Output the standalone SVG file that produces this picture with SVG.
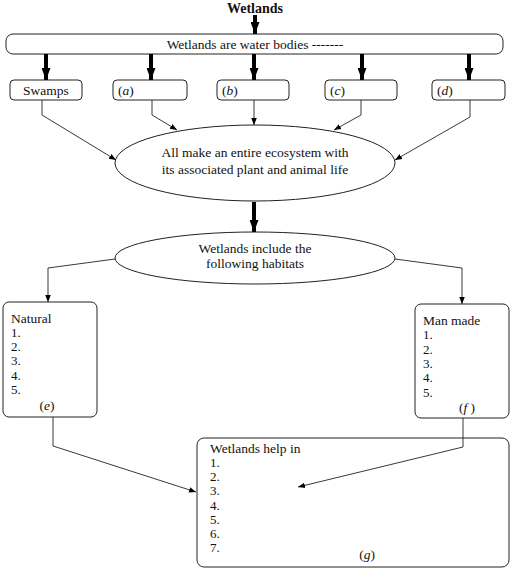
<svg xmlns="http://www.w3.org/2000/svg" width="520" height="574" viewBox="0 0 520 574">
<style>
.box{fill:#fff;stroke:#222;stroke-width:1}
.t{font-family:"Liberation Serif","Times New Roman",serif;font-size:13.5px;fill:#111}
.s{font-size:13px}
.c{text-anchor:middle}
.b{font-weight:bold;font-size:14px}
.i{font-style:italic}
.ln{fill:none;stroke:#222;stroke-width:0.9}
.thick{fill:none;stroke:#000;stroke-width:4}
</style>
<defs>
<marker id="ah" viewBox="0 0 10 10" refX="10" refY="5" markerWidth="7" markerHeight="7" markerUnits="userSpaceOnUse" orient="auto">
<path d="M0,1 L10,5 L0,9 Z" fill="#000"/>
</marker>
<marker id="th" viewBox="0 0 12 9" refX="12" refY="4.5" markerWidth="12" markerHeight="9" markerUnits="userSpaceOnUse" orient="auto">
<path d="M0,0 L12,4.5 L0,9 Z" fill="#000"/>
</marker>
</defs>
<g id="title"><text class="t c b" x="255" y="13">Wetlands</text></g>
<g id="banner"><rect class="box" x="6" y="34" width="497" height="20" rx="7"/><text class="t c" x="255" y="49">Wetlands are water bodies -------</text></g>
<g id="swamps"><rect class="box" x="10" y="80" width="72" height="20" rx="4"/><text class="t c" x="46" y="95">Swamps</text></g>
<g id="a"><rect class="box" x="113" y="80" width="74" height="20" rx="4"/><text class="t" x="118" y="95">(<tspan class="i">a</tspan>)</text></g>
<g id="b"><rect class="box" x="217" y="80" width="72" height="20" rx="4"/><text class="t" x="222" y="95">(<tspan class="i">b</tspan>)</text></g>
<g id="c"><rect class="box" x="325" y="80" width="72" height="20" rx="4"/><text class="t" x="330" y="95">(<tspan class="i">c</tspan>)</text></g>
<g id="d"><rect class="box" x="432" y="80" width="73" height="20" rx="4"/><text class="t" x="437" y="95">(<tspan class="i">d</tspan>)</text></g>
<g id="ecosystem"><ellipse class="box" cx="255" cy="163" rx="140" ry="38"/><text class="t c" x="255" y="157">All make an entire ecosystem with</text><text class="t c" x="255" y="174">its associated plant and animal life</text></g>
<g id="habitats"><ellipse class="box" cx="255" cy="258" rx="140" ry="26"/><text class="t c" x="255" y="253">Wetlands include the</text><text class="t c" x="255" y="268">following habitats</text></g>
<g id="natural"><rect class="box" x="3" y="302" width="94" height="115" rx="6"/>
<text class="t" x="11" y="323">Natural</text>
<text class="t s" x="11" y="337">1.</text><text class="t s" x="11" y="351">2.</text><text class="t s" x="11" y="365">3.</text><text class="t s" x="11" y="380">4.</text><text class="t s" x="11" y="394">5.</text>
<text class="t c" x="47" y="410">(<tspan class="i">e</tspan>)</text></g>
<g id="manmade"><rect class="box" x="415" y="304" width="94" height="114" rx="6"/>
<text class="t" x="423" y="325">Man made</text>
<text class="t s" x="423" y="339">1.</text><text class="t s" x="423" y="354">2.</text><text class="t s" x="423" y="368">3.</text><text class="t s" x="423" y="382">4.</text><text class="t s" x="423" y="397">5.</text>
<text class="t c" x="467" y="412">(<tspan class="i">f</tspan> )</text></g>
<g id="help"><rect class="box" x="197" y="438" width="312" height="129" rx="7"/>
<text class="t" x="210" y="453">Wetlands help in</text>
<text class="t s" x="210" y="467">1.</text><text class="t s" x="210" y="481">2.</text><text class="t s" x="210" y="495">3.</text><text class="t s" x="210" y="510">4.</text><text class="t s" x="210" y="524">5.</text><text class="t s" x="210" y="538">6.</text><text class="t s" x="210" y="552">7.</text>
<text class="t c" x="367" y="559">(<tspan class="i">g</tspan>)</text></g>
<g id="connectors">
<path class="thick" d="M255,15 V34" marker-end="url(#th)"/>
<path class="thick" d="M46,54 V80" marker-end="url(#th)"/>
<path class="thick" d="M151,54 V80" marker-end="url(#th)"/>
<path class="thick" d="M254,54 V80" marker-end="url(#th)"/>
<path class="thick" d="M362,54 V80" marker-end="url(#th)"/>
<path class="thick" d="M469,54 V80" marker-end="url(#th)"/>
<path class="thick" d="M254,202 V232" marker-end="url(#th)"/>
<path class="ln" d="M42,100 V115 L116,160" marker-end="url(#ah)"/>
<path class="ln" d="M152,100 V115 L177,130" marker-end="url(#ah)"/>
<path class="ln" d="M254,100 V125" marker-end="url(#ah)"/>
<path class="ln" d="M361,100 V115 L334,130" marker-end="url(#ah)"/>
<path class="ln" d="M470,100 V117 L395,160" marker-end="url(#ah)"/>
<path class="ln" d="M115,259 L48,268 V302" marker-end="url(#ah)"/>
<path class="ln" d="M395,259 L462,268 V304" marker-end="url(#ah)"/>
<path class="ln" d="M53,417 V446 L196,492" marker-end="url(#ah)"/>
<path class="ln" d="M463,418 V447 L298,487" marker-end="url(#ah)"/>
</g>
</svg>
